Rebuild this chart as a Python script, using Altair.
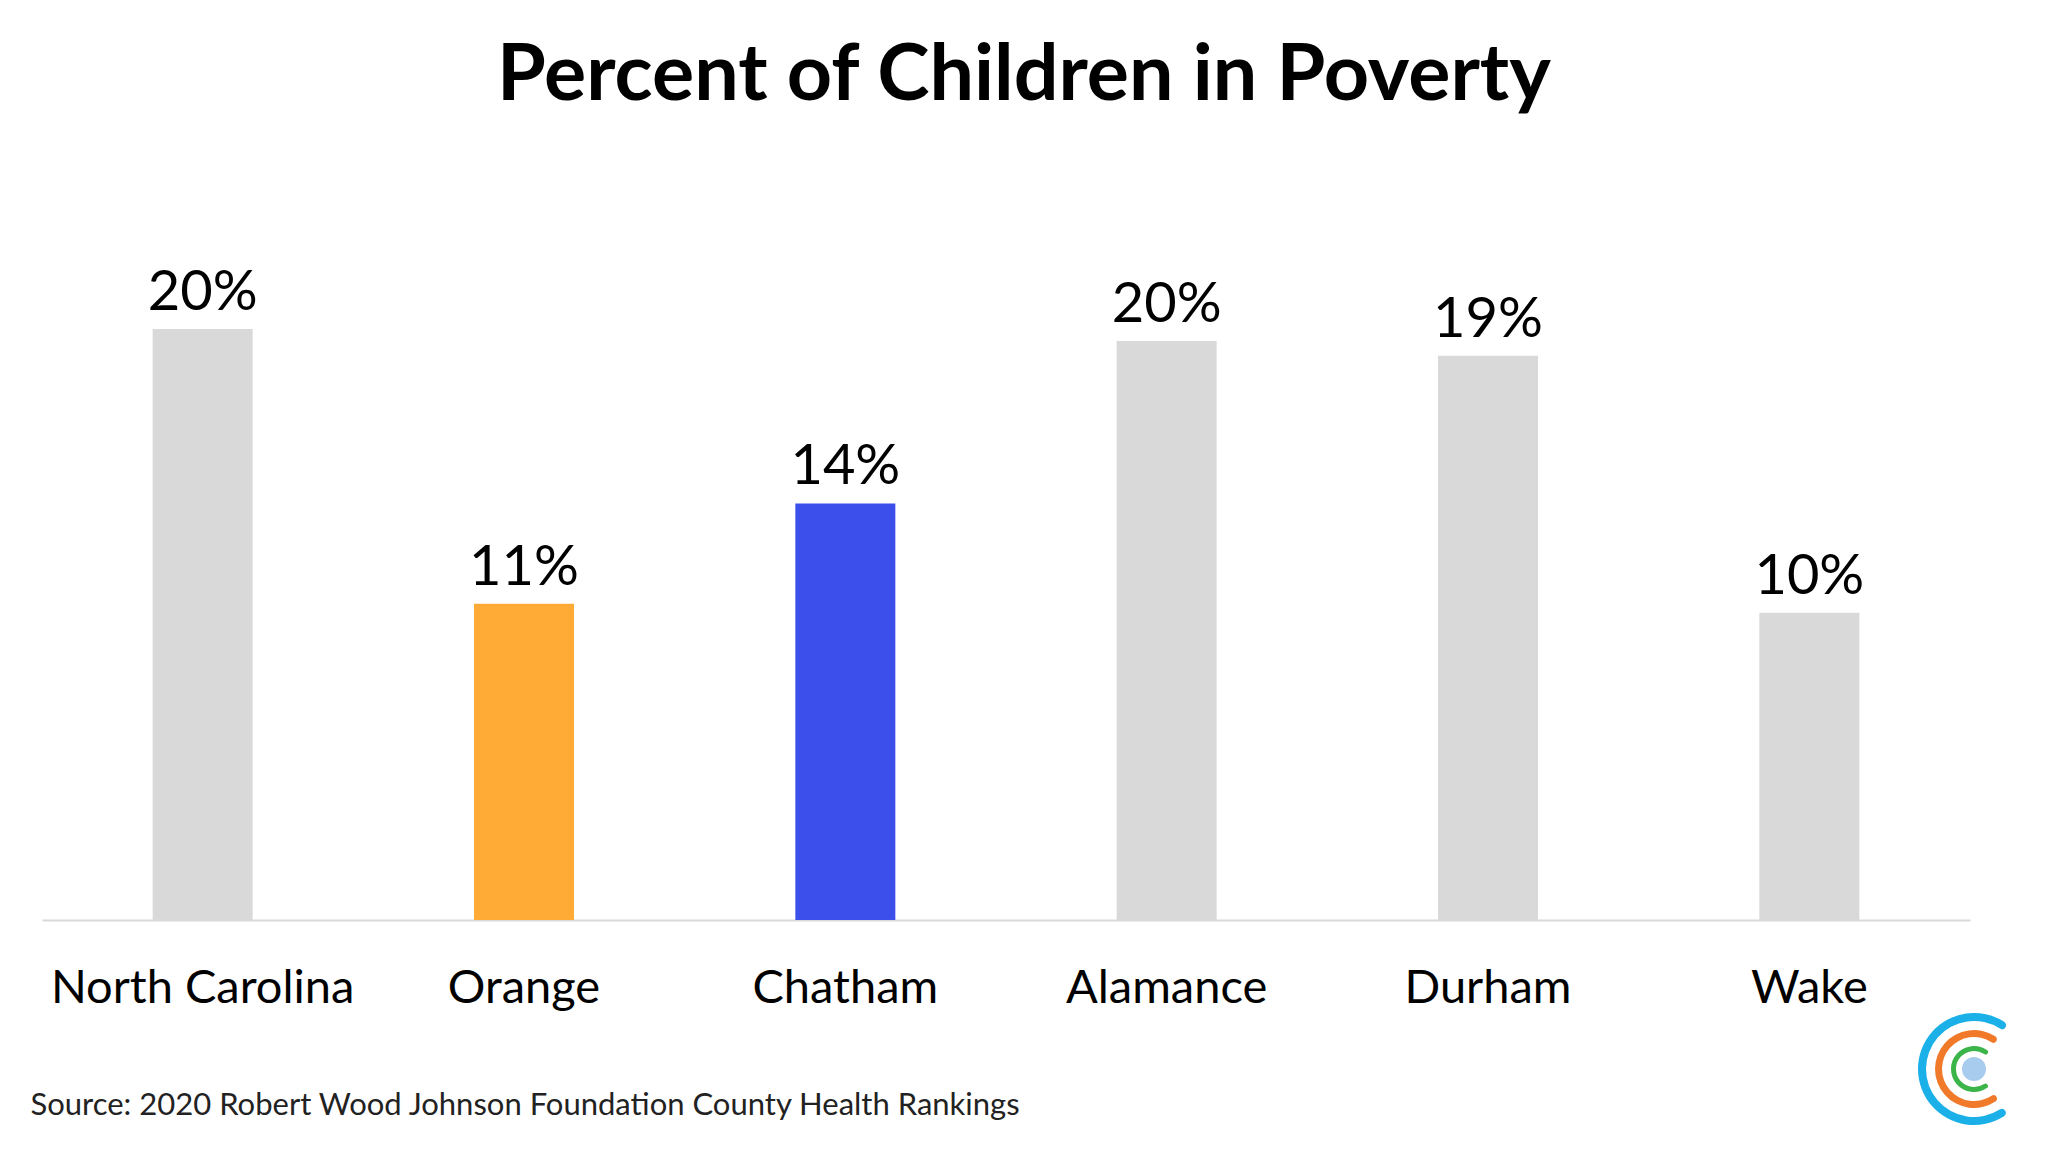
import altair as alt
import pandas as pd

counties = ["North Carolina", "Orange", "Chatham", "Alamance", "Durham", "Wake"]
values = [20.0, 10.7, 14.1, 19.6, 19.1, 10.4]
bar_colors = ["#D9D9D9", "#FFAB36", "#3C4FEA", "#D9D9D9", "#D9D9D9", "#D9D9D9"]
title_text = "Percent of Children in Poverty"
source_text = "Source: 2020 Robert Wood Johnson Foundation County Health Rankings"

df = pd.DataFrame({"county": counties, "value": values})

W, H = 1928, 650

x_enc = alt.X(
    "county:N",
    sort=counties,
    scale=alt.Scale(paddingInner=0, paddingOuter=0),
    axis=alt.Axis(
        title=source_text,
        labelFont="Lato", labelFontSize=47, labelColor="black",
        labelPadding=82, labelBaseline="alphabetic", labelAngle=0, labelLimit=0,
        ticks=False, tickSize=0,
        domainColor="#D9D9D9", domainWidth=2,
        titleFont="Lato", titleFontSize=31, titleFontWeight="normal",
        titleColor="#222222", titleAnchor="start", titleAlign="left",
        titleBaseline="alphabetic", titleX=-12, titleY=194,
    ),
)
y_enc = alt.Y("value:Q", scale=alt.Scale(domain=[0, 22], nice=False), axis=None)

base = alt.Chart(df)

bars = base.mark_bar(size=100).encode(
    x=x_enc,
    y=y_enc,
    color=alt.Color("county:N", scale=alt.Scale(domain=counties, range=bar_colors), legend=None),
)

labels = base.transform_calculate(
    label="format(datum.value, '.0f') + '%'"
).mark_text(
    dy=-19, baseline="alphabetic", align="center",
    font="Lato", fontSize=56, color="black",
).encode(x=alt.X("county:N", sort=counties), y="value:Q", text="label:N")

# logo (decoration)
logo_data = alt.Data(values=[{"k": 1}])
cx, cy = 1932, 799
def arc(r_out, r_in, t1, t2, col, corner):
    return alt.Chart(logo_data).mark_arc(color=col, cornerRadius=corner).encode(
        x=alt.value(cx), y=alt.value(cy),
        theta=alt.value(t1), theta2=alt.value(t2),
        radius=alt.value(r_out), radius2=alt.value(r_in),
    )

logo = [
    arc(56, 48, 2.50, 6.93, "#1BB0E7", 4),
    arc(39, 32, 2.46, 6.96, "#F07A2A", 3.5),
    arc(23, 18, 2.43, 7.00, "#3BB54A", 2.5),
    arc(12, 0, 0, 6.2832, "#A8CCEE", 0),
]

chart = alt.layer(bars, labels, *logo).properties(
    width=W, height=H,
    background="white",
    title=alt.TitleParams(
        text=title_text, font="Lato", fontSize=79, fontWeight="bold",
        color="black", anchor="middle", frame="group",
        baseline="alphabetic", offset=86, dx=18,
    ),
    autosize=alt.AutoSizeParams(type="none"),
    padding={"left": 34, "top": 262, "right": 70, "bottom": 215},
).configure_view(stroke=None)

chart.save("out.html", embed_options={"renderer": "svg", "actions": False})
